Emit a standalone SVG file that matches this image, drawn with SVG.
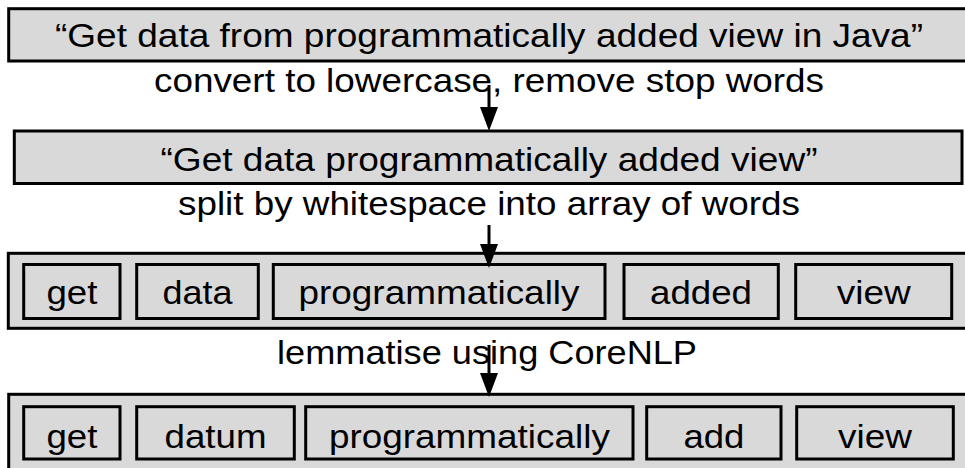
<svg xmlns="http://www.w3.org/2000/svg" width="965" height="468" viewBox="0 0 965 468">
<style>
  .box { fill: #d9d9d9; stroke: #000; stroke-width: 3; }
  .t { font-family: "Liberation Sans", Arial, sans-serif; font-size: 33.5px; fill: #000; text-anchor: middle; }
  .conn { stroke: #000; stroke-width: 3; fill: none; }
</style>
<defs>
  <marker id="ah" viewBox="0 0 24 18" refX="4" refY="9" markerWidth="24" markerHeight="18" markerUnits="userSpaceOnUse" orient="auto">
    <path d="M0,0 L24,9 L0,18 z" fill="#000"/>
  </marker>
</defs>
<rect width="965" height="468" fill="#fff"/>

<g id="sentence">
  <rect class="box" x="8.7" y="8.7" width="980" height="52.3"/>
  <text class="t" x="489" y="47" textLength="868" lengthAdjust="spacingAndGlyphs">“Get data from programmatically added view in Java”</text>
</g>
<g id="step1-label">
  <text class="t" x="489" y="92" textLength="670" lengthAdjust="spacingAndGlyphs">convert to lowercase, remove stop words</text>
</g>
<g id="filtered">
  <rect class="box" x="14.3" y="131" width="947.7" height="52.5"/>
  <text class="t" x="489" y="171" textLength="657" lengthAdjust="spacingAndGlyphs">“Get data programmatically added view”</text>
</g>
<g id="step2-label">
  <text class="t" x="489" y="215" textLength="622" lengthAdjust="spacingAndGlyphs">split by whitespace into array of words</text>
</g>
<g id="tokens">
  <rect class="box" x="8.3" y="253.3" width="980" height="75"/>
  <rect class="box" x="23.7" y="264.5" width="96.3" height="54"/>
  <text class="t" x="71.9" y="304" textLength="51" lengthAdjust="spacingAndGlyphs">get</text>
  <rect class="box" x="136.7" y="264.5" width="121.6" height="54"/>
  <text class="t" x="197.5" y="304" textLength="70" lengthAdjust="spacingAndGlyphs">data</text>
  <rect class="box" x="273.3" y="264.5" width="331.7" height="54"/>
  <text class="t" x="439" y="304" textLength="281" lengthAdjust="spacingAndGlyphs">programmatically</text>
  <rect class="box" x="624" y="264.5" width="154.3" height="54"/>
  <text class="t" x="701" y="304" textLength="102" lengthAdjust="spacingAndGlyphs">added</text>
  <rect class="box" x="795.7" y="264.5" width="156" height="54"/>
  <text class="t" x="873.7" y="304" textLength="74" lengthAdjust="spacingAndGlyphs">view</text>
</g>
<g id="step3-label">
  <text class="t" x="487" y="364" textLength="420" lengthAdjust="spacingAndGlyphs">lemmatise using CoreNLP</text>
</g>
<g id="lemmas">
  <rect class="box" x="8.7" y="394.3" width="980" height="90"/>
  <rect class="box" x="23.7" y="406.7" width="96.3" height="52.3"/>
  <text class="t" x="71.9" y="448" textLength="51" lengthAdjust="spacingAndGlyphs">get</text>
  <rect class="box" x="136.7" y="406.7" width="157.6" height="52.3"/>
  <text class="t" x="215.5" y="448" textLength="102" lengthAdjust="spacingAndGlyphs">datum</text>
  <rect class="box" x="305.7" y="406.7" width="327.3" height="52.3"/>
  <text class="t" x="469.4" y="448" textLength="281" lengthAdjust="spacingAndGlyphs">programmatically</text>
  <rect class="box" x="646.7" y="406.7" width="134.3" height="52.3"/>
  <text class="t" x="713.9" y="448" textLength="61" lengthAdjust="spacingAndGlyphs">add</text>
  <rect class="box" x="796.7" y="406.7" width="156.6" height="52.3"/>
  <text class="t" x="875" y="448" textLength="74" lengthAdjust="spacingAndGlyphs">view</text>
</g>

<g id="connectors">
  <path class="conn" d="M489,85 L489,111" marker-end="url(#ah)"/>
  <path class="conn" d="M489,225 L489,248" marker-end="url(#ah)"/>
  <path class="conn" d="M489,345 L489,377" marker-end="url(#ah)"/>
</g>
</svg>
